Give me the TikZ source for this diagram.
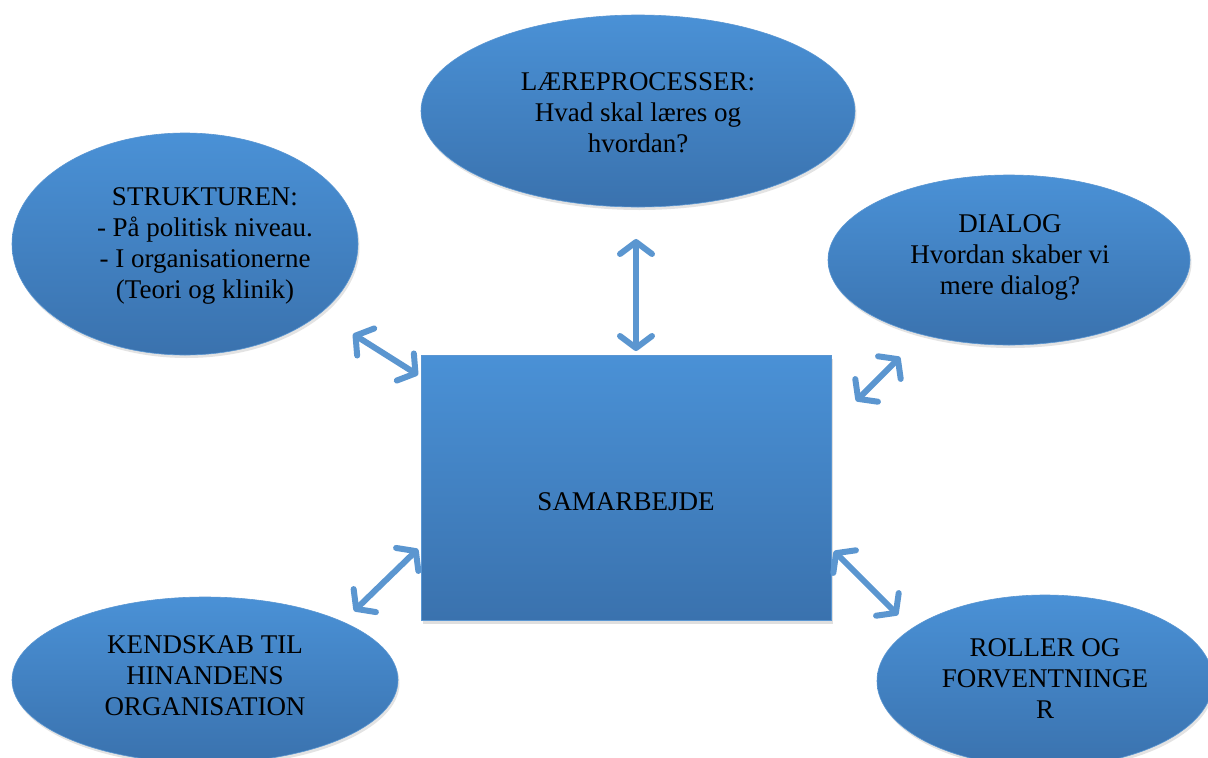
\documentclass[tikz,border=0pt]{standalone}
\usepackage{fontspec}
\setmainfont{Liberation Serif}
\usetikzlibrary{arrows.meta,shadows,shapes.geometric}
\definecolor{topblue}{HTML}{4A91D6}
\definecolor{botblue}{HTML}{3A72AE}
\definecolor{edgeblue}{HTML}{5A96D2}
\definecolor{arrowblue}{HTML}{5B96D0}
\tikzset{
  bubble/.style={ellipse, draw=edgeblue, line width=0.6pt, top color=topblue, bottom color=botblue,
    drop shadow={opacity=0.22, shadow xshift=1.5pt, shadow yshift=-3pt},
    inner sep=0pt, align=center, text=black,
    font=\fontsize{27}{31}\selectfont},
  block/.style={rectangle, draw=edgeblue, line width=1pt, top color=topblue, bottom color=botblue,
    drop shadow={opacity=0.25, shadow xshift=2pt, shadow yshift=-4pt},
    inner sep=0pt, align=center, text=black},
  label/.style={font=\fontsize{27}{31}\selectfont, text=black},
  link/.style={draw=arrowblue, line width=6pt, line cap=round,
    {Straight Barb[length=12pt,width=32pt,line width=6pt,round]}-{Straight Barb[length=12pt,width=32pt,line width=6pt,round]}},
}
\begin{document}
\begin{tikzpicture}[x=1pt,y=-1pt]
\useasboundingbox (0,0) rectangle (1208,758);
\fill[white] (0,0) rectangle (1208,758);
\begin{scope}
\clip (0,0) rectangle (1208,758);
% central block
\node[block, minimum width=410pt, minimum height=265pt] (sam) at (626,487.5) {};
\node[label] (samtxt) at (626,502) {SAMARBEJDE};
% ellipses
\node[bubble, minimum width=434pt, minimum height=192pt] (laere) at (638,111) {};
\node[label, align=center] (laeretxt) at (638,113)
  {L\AE REPROCESSER:\\Hvad skal læres og\\hvordan?};
\node[bubble, minimum width=346pt, minimum height=222pt] (struk) at (185,244) {};
\node[label, align=center] (struktxt) at (205,246)
  {STRUKTUREN:\\- På politisk niveau.\\- I organisationerne\\(Teori og klinik)};
\node[bubble, minimum width=362pt, minimum height=170pt] (dialog) at (1009,260) {};
\node[label, align=center] (dialogtxt) at (1010,257)
  {DIALOG\\Hvordan skaber vi\\mere dialog?};
\node[bubble, minimum width=386pt, minimum height=166pt] (kend) at (205,680) {};
\node[label, align=center] (kendtxt) at (205,676)
  {KENDSKAB TIL\\HINANDENS\\ORGANISATION};
\node[bubble, minimum width=336pt, minimum height=172pt] (roller) at (1045,681) {};
\node[label, align=center] (rollertxt) at (1045,679)
  {ROLLER OG\\FORVENTNINGE\\R};
\end{scope}
% connector end points
\coordinate (a1) at (636,239);
\coordinate (a2) at (636,351);
\coordinate (b1) at (353,334);
\coordinate (b2) at (418,375);
\coordinate (c1) at (856,401);
\coordinate (c2) at (900,357);
\coordinate (d1) at (354,611);
\coordinate (d2) at (418,549);
\coordinate (e1) at (834,551);
\coordinate (e2) at (898,615);
\draw[link] (a1) -- (a2);
\draw[link] (b1) -- (b2);
\draw[link] (c1) -- (c2);
\draw[link] (d1) -- (d2);
\draw[link] (e1) -- (e2);
\end{tikzpicture}
\end{document}
